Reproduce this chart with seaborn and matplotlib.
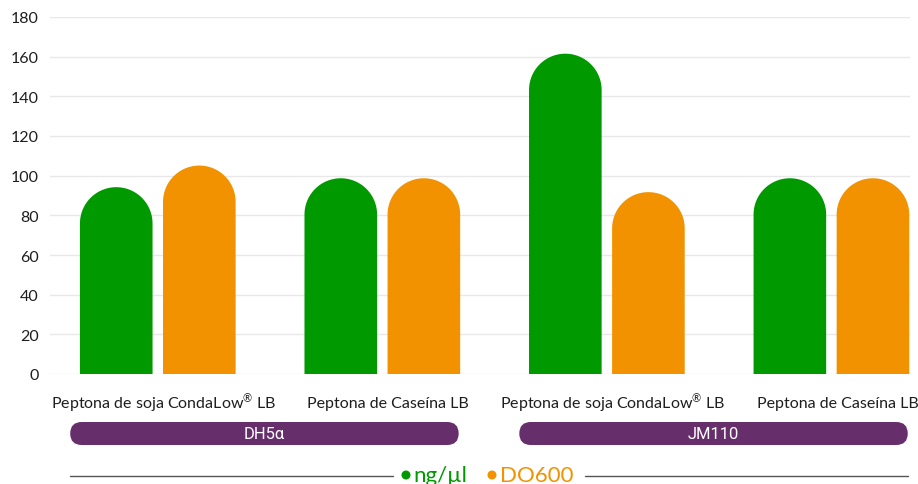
#!/usr/bin/env python3
"""Rendimiento de plásmido (ng/µl) y DO600 por cepa y peptona."""

import numpy as np
import pandas as pd
import seaborn as sns
from matplotlib import pyplot as plt
from matplotlib.patches import FancyBboxPatch, Polygon
from matplotlib.transforms import ScaledTranslation

strains = ["DH5α", "DH5α", "JM110", "JM110"]
media = [
    "Peptona de soja CondaLow$^{®}$ LB",
    "Peptona de Caseína LB",
    "Peptona de soja CondaLow$^{®}$ LB",
    "Peptona de Caseína LB",
]
ng_ul = [94.2, 98.7, 161.5, 98.7]
do600 = [105.1, 98.7, 91.7, 98.7]
series = ["ng/µl", "DO600"]

GREEN = "#009a00"
ORANGE = "#f29200"
PURPLE = "#662f6c"

keys = [f"{s} | {i}" for i, s in enumerate(strains)]
df = pd.DataFrame(
    {
        "key": keys * 2,
        "valor": ng_ul + do600,
        "serie": [series[0]] * 4 + [series[1]] * 4,
    }
)

sns.set_theme(style="white")
plt.rcParams["font.family"] = ["Lato", "DejaVu Sans"]
plt.rcParams["mathtext.fontset"] = "custom"
plt.rcParams["mathtext.rm"] = "Lato"
plt.rcParams["mathtext.default"] = "rm"

W, H = 918, 485
fig = plt.figure(figsize=(W / 100, H / 100), dpi=100)
ax = fig.add_axes([50 / W, 1 - 375 / H, 860 / W, 357 / H])

sns.barplot(
    data=df, x="key", y="valor", hue="serie", order=keys, hue_order=series,
    palette=[GREEN, ORANGE], width=0.74, gap=0.126, saturation=1,
    legend=False, ax=ax,
)

ax.set_xlim(-0.48, 3.35)
ax.set_ylim(0, 180)
ax.set_yticks(np.arange(0, 181, 20))
ax.yaxis.grid(True, color="#e8e8e8", linewidth=1)
ax.set_axisbelow(True)
sns.despine(ax=ax, left=True, bottom=True)
ax.set_xlabel("")
ax.set_ylabel("")
ax.set_xticks(range(len(media)))
ax.set_xticklabels(media, fontsize=11.5, color="#1e1e1e", va="baseline")
ax.tick_params(axis="x", length=0, pad=24)
ax.tick_params(axis="y", length=0, pad=8, labelsize=11.5, labelcolor="#1e1e1e")
shift = ScaledTranslation(6 / 100, 0, fig.dpi_scale_trans)
for lbl in ax.get_xticklabels():
    lbl.set_transform(lbl.get_transform() + shift)

# rounded (capsule) tops: replace each rectangle by a shape with a semicircle cap
px_x = ax.bbox.width / (ax.get_xlim()[1] - ax.get_xlim()[0])
px_y = ax.bbox.height / (ax.get_ylim()[1] - ax.get_ylim()[0])
for bar in list(ax.patches):
    x0, w, h = bar.get_x(), bar.get_width(), bar.get_height()
    color = bar.get_facecolor()
    bar.remove()
    rx = w / 2
    ry = rx * px_x / px_y
    t = np.linspace(np.pi, 0, 60)
    arc = np.column_stack([x0 + rx + rx * np.cos(t), h - ry + ry * np.sin(t)])
    verts = np.vstack([[x0, 0], arc, [x0 + w, 0]])
    ax.add_patch(Polygon(verts, closed=True, facecolor=color, edgecolor="none", zorder=3))

# overlay in pixel units for strain pills and legend
ov = fig.add_axes([0, 0, 1, 1])
ov.set_xlim(0, W)
ov.set_ylim(H, 0)
ov.axis("off")


def to_px(xval):
    return ax.transData.transform((xval, 0))[0]


for strain in dict.fromkeys(strains):
    idx = [i for i, s in enumerate(strains) if s == strain]
    left = to_px(idx[0] - 0.39)
    right = to_px(idx[-1] + 0.34)
    ov.add_patch(
        FancyBboxPatch(
            (left, 423), right - left, 23,
            boxstyle="round,pad=0,rounding_size=11.5",
            facecolor=PURPLE, edgecolor="none",
        )
    )
    ov.text((left + right) / 2, 435, strain, ha="center", va="center",
            color="white", fontsize=12, family=["Roboto", "DejaVu Sans"])

# legend with rules on both sides
ov.plot([70, 393], [476.5, 476.5], color="#555555", linewidth=1)
ov.plot([585, 908], [476.5, 476.5], color="#555555", linewidth=1)
ov.scatter([406], [476], s=42, color=GREEN, edgecolor="none")
ov.text(413, 476, series[0], color=GREEN, fontsize=16, va="center", ha="left")
ov.scatter([492], [476], s=42, color=ORANGE, edgecolor="none")
ov.text(500, 476, series[1], color=ORANGE, fontsize=16, va="center", ha="left")

fig.savefig("out.png", dpi=100)
plt.close(fig)
